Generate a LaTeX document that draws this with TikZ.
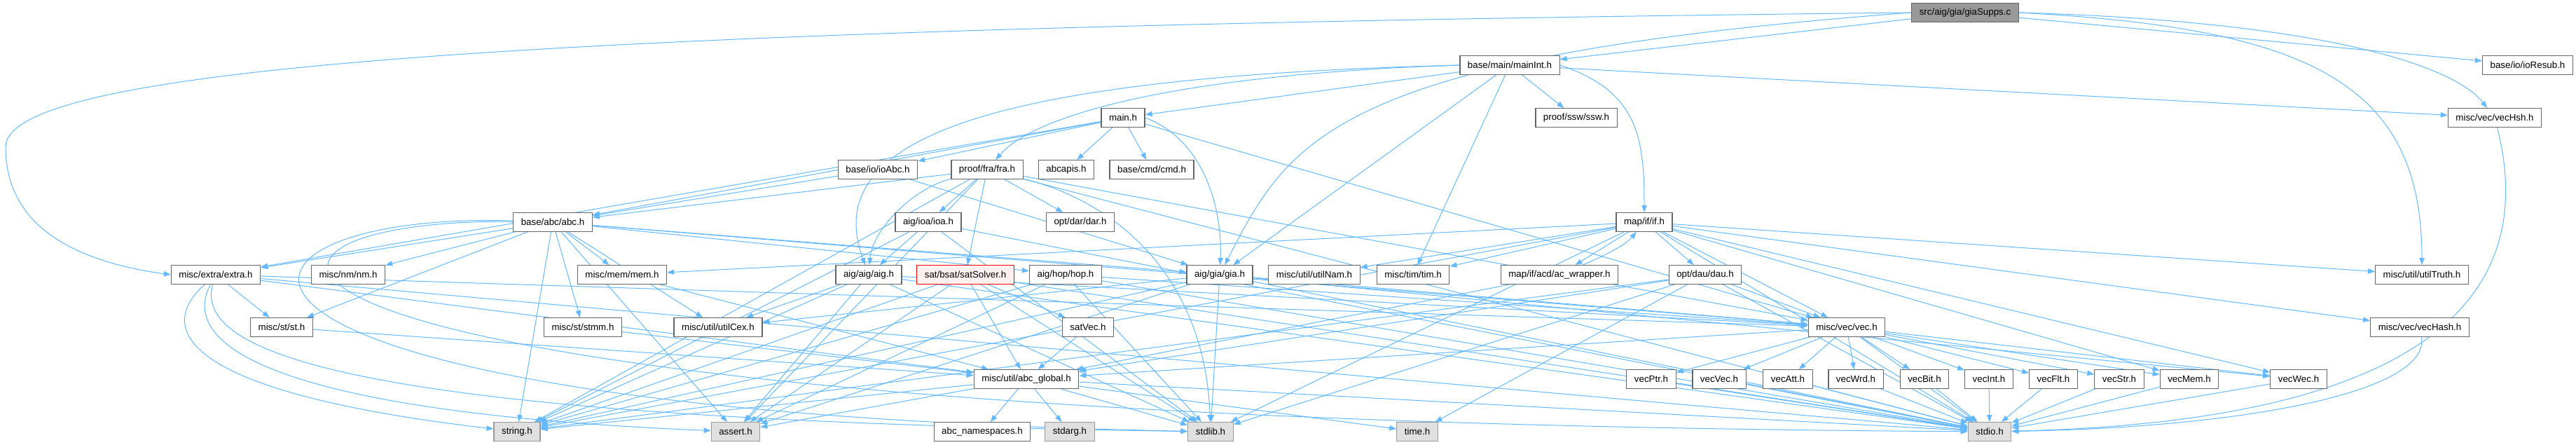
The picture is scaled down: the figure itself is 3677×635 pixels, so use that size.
\documentclass[tikz,border=0pt]{standalone}
\usepackage{fontspec}
\setmainfont{Liberation Sans}
\usetikzlibrary{arrows.meta}
\definecolor{edgeblue}{RGB}{99,184,255}
\definecolor{nodeline}{RGB}{102,102,102}
\definecolor{sysfill}{RGB}{224,224,224}
\definecolor{sysline}{RGB}{153,153,153}
\definecolor{rootfill}{RGB}{153,153,153}
\definecolor{redfill}{RGB}{255,240,240}
\pgfdeclarelayer{background}
\pgfsetlayers{background,main}

\begin{document}
\begin{tikzpicture}[x=0.75pt, y=-0.75pt,
    font=\fontsize{10}{12}\selectfont,
    box/.style={draw=nodeline, fill=white, line width=0.9pt, inner xsep=8.3pt, inner ysep=0pt, minimum height=20pt},
    sysbox/.style={box, draw=sysline, fill=sysfill},
    rootbox/.style={box, fill=rootfill},
    redbox/.style={box, draw=red, fill=redfill},
    arrow/.style={-{Triangle[length=7.5pt,width=5.5pt]}, draw=edgeblue, line width=0.75pt}
  ]
    \useasboundingbox (0,0) rectangle (3677,635);
    \node[rootbox] (supps) at (2805,18) {src/aig/gia/giaSupps.c};
    \node[box] (mainint) at (2155,93) {base/main/mainInt.h};
    \node[box] (ioresub) at (3608,93) {base/io/ioResub.h};
    \node[box] (mainh) at (1603,168) {main.h};
    \node[box] (ssw) at (2250,168) {proof/ssw/ssw.h};
    \node[box] (vechsh) at (3561,168) {misc/vec/vecHsh.h};
    \node[box] (ioabc) at (1253,242) {base/io/ioAbc.h};
    \node[box] (fra) at (1409,242) {proof/fra/fra.h};
    \node[box] (abcapis) at (1522,242) {abcapis.h};
    \node[box] (cmd) at (1644,242) {base/cmd/cmd.h};
    \node[box] (abch) at (789,317) {base/abc/abc.h};
    \node[box] (ioa) at (1325,317) {aig/ioa/ioa.h};
    \node[box] (dar) at (1542,317) {opt/dar/dar.h};
    \node[box] (ifh) at (2347,317) {map/if/if.h};
    \node[box] (extra) at (308,392) {misc/extra/extra.h};
    \node[box] (nm) at (497,392) {misc/nm/nm.h};
    \node[box] (mem) at (888,392) {misc/mem/mem.h};
    \node[box] (aigh) at (1240,392) {aig/aig/aig.h};
    \node[redbox] (satsolver) at (1378,392) {sat/bsat/satSolver.h};
    \node[box] (hop) at (1521,392) {aig/hop/hop.h};
    \node[box] (giah) at (1741,392) {aig/gia/gia.h};
    \node[box] (utilnam) at (1876,392) {misc/util/utilNam.h};
    \node[box] (tim) at (2017,392) {misc/tim/tim.h};
    \node[box] (acwrap) at (2226,392) {map/if/acd/ac\_wrapper.h};
    \node[box] (dau) at (2434,392) {opt/dau/dau.h};
    \node[box] (utiltruth) at (3457,392) {misc/util/utilTruth.h};
    \node[box] (st) at (402,467) {misc/st/st.h};
    \node[box] (stmm) at (832,467) {misc/st/stmm.h};
    \node[box] (utilcex) at (1025,467) {misc/util/utilCex.h};
    \node[box] (satvec) at (1553,467) {satVec.h};
    \node[box] (vech) at (2636,467) {misc/vec/vec.h};
    \node[box] (vechash) at (3454,467) {misc/vec/vecHash.h};
    \node[box] (abcglobal) at (1465,541) {misc/util/abc\_global.h};
    \node[box] (vecptr) at (2357,541) {vecPtr.h};
    \node[box] (vecvec) at (2454,541) {vecVec.h};
    \node[box] (vecatt) at (2552,541) {vecAtt.h};
    \node[box] (vecwrd) at (2649,541) {vecWrd.h};
    \node[box] (vecbit) at (2747,541) {vecBit.h};
    \node[box] (vecint) at (2839,541) {vecInt.h};
    \node[box] (vecflt) at (2931,541) {vecFlt.h};
    \node[box] (vecstr) at (3025,541) {vecStr.h};
    \node[box] (vecmem) at (3125,541) {vecMem.h};
    \node[box] (vecwec) at (3281,541) {vecWec.h};
    \node[sysbox] (stringh) at (738,616) {string.h};
    \node[sysbox] (asserth) at (1050,616) {assert.h};
    \node[box] (abcns) at (1402,616) {abc\_namespaces.h};
    \node[sysbox] (stdargh) at (1527,616) {stdarg.h};
    \node[sysbox] (stdlibh) at (1728,616) {stdlib.h};
    \node[sysbox] (timeh) at (2023,616) {time.h};
    \node[sysbox] (stdioh) at (2840,616) {stdio.h};
    \begin{pgfonlayer}{background}
    \draw[arrow] (supps.west) .. controls (700,40) and (8,100) .. (8,210) .. controls (8,330) and (120,375) .. (extra.west);
    \draw[arrow] (supps) -- (mainint);
    \draw[arrow] (supps.west) .. controls (1900,80) and (1840,200) .. (giah);
    \draw[arrow] (supps) -- (ioresub);
    \draw[arrow] (supps.east) .. controls (3300,30) and (3500,90) .. (vechsh);
    \draw[arrow] (supps.east) .. controls (3300,40) and (3457,120) .. (utiltruth);
    \draw[arrow] (mainint) -- (mainh);
    \draw[arrow] (mainint.west) .. controls (1700,105) and (1480,160) .. (fra);
    \draw[arrow] (mainint.west) .. controls (1400,110) and (1170,200) .. (aigh);
    \draw[arrow] (mainint) -- (ssw);
    \draw[arrow] (mainint.east) .. controls (2340,130) and (2347,200) .. (ifh);
    \draw[arrow] (mainint) -- (tim);
    \draw[arrow] (mainint) -- (giah);
    \draw[arrow] (mainint) -- (vechsh);
    \draw[arrow] (mainh) -- (ioabc);
    \draw[arrow] (mainh) -- (abcapis);
    \draw[arrow] (mainh) -- (cmd);
    \draw[arrow] (mainh) -- (abch);
    \draw[arrow] (mainh) -- (extra);
    \draw[arrow] (mainh.east) .. controls (1720,200) and (1745,300) .. (giah);
    \draw[arrow] (mainh) -- (vech);
    \draw[arrow] (ioabc) -- (abch);
    \draw[arrow] (ioabc) -- (giah);
    \draw[arrow] (fra) -- (abch);
    \draw[arrow] (fra) -- (ioa);
    \draw[arrow] (fra) -- (satsolver);
    \draw[arrow] (fra) -- (dar);
    \draw[arrow] (fra) .. controls (1300,270) and (1245,330) .. (aigh);
    \draw[arrow] (fra) -- (vech);
    \draw[arrow] (fra) .. controls (1600,290) and (1720,400) .. (stdlibh);
    \draw[arrow] (fra) -- (stdioh);
    \draw[arrow] (fra) -- (stringh);
    \draw[arrow] (fra) -- (asserth);
    \draw[arrow] (abch) -- (extra);
    \draw[arrow] (abch) -- (nm);
    \draw[arrow] (abch) -- (st);
    \draw[arrow] (abch) -- (stmm);
    \draw[arrow] (abch) -- (mem);
    \draw[arrow] (abch) -- (utilcex);
    \draw[arrow] (abch) -- (hop);
    \draw[arrow] (abch) -- (giah);
    \draw[arrow] (abch) -- (vech);
    \draw[arrow] (abch) -- (stringh);
    \draw[arrow] (abch) -- (asserth);
    \draw[arrow] (abch) .. controls (260,300) and (170,585) .. (stdlibh);
    \draw[arrow] (abch) .. controls (240,310) and (190,600) .. (stdioh);
    \draw[arrow] (ioa) -- (aigh);
    \draw[arrow] (ioa) -- (stringh);
    \draw[arrow] (ioa) -- (stdlibh);
    \draw[arrow] (ioa) -- (stdioh);
    \draw[arrow] (ifh) -- (utilnam);
    \draw[arrow] (ifh) -- (tim);
    \draw[arrow] (ifh) -- (acwrap);
    \draw[arrow] (ifh) -- (dau);
    \draw[arrow] (ifh) -- (mem);
    \draw[arrow] (ifh) -- (vech);
    \draw[arrow] (ifh) -- (vecmem);
    \draw[arrow] (ifh) -- (vecwec);
    \draw[arrow] (ifh) -- (utiltruth);
    \draw[arrow] (ifh) -- (vechash);
    \draw[arrow] (ifh) -- (stringh);
    \draw[arrow] (ifh) -- (stdlibh);
    \draw[arrow] (ifh) -- (stdioh);
    \draw[arrow] (acwrap) .. controls (2290,365) and (2320,350) .. (ifh);
    \draw[arrow] (acwrap) -- (abcglobal);
    \draw[arrow] (dau) -- (vech);
    \draw[arrow] (dau) -- (timeh);
    \draw[arrow] (dau) -- (stdlibh);
    \draw[arrow] (dau) -- (stdioh);
    \draw[arrow] (dau) -- (stringh);
    \draw[arrow] (dau) -- (abcglobal);
    \draw[arrow] (extra) -- (st);
    \draw[arrow] (extra) .. controls (220,470) and (260,560) .. (stringh);
    \draw[arrow] (extra) .. controls (250,500) and (420,590) .. (asserth);
    \draw[arrow] (extra) .. controls (270,520) and (600,600) .. (stdlibh);
    \draw[arrow] (extra) -- (stdioh);
    \draw[arrow] (extra) -- (abcglobal);
    \draw[arrow] (extra) -- (vech);
    \draw[arrow] (aigh) -- (utilcex);
    \draw[arrow] (aigh) -- (asserth);
    \draw[arrow] (aigh) -- (stringh);
    \draw[arrow] (aigh) -- (stdlibh);
    \draw[arrow] (aigh) -- (stdioh);
    \draw[arrow] (aigh) -- (vech);
    \draw[arrow] (satsolver) -- (satvec);
    \draw[arrow] (satsolver) -- (stringh);
    \draw[arrow] (satsolver) -- (asserth);
    \draw[arrow] (satsolver) -- (stdlibh);
    \draw[arrow] (satsolver) -- (stdioh);
    \draw[arrow] (satsolver) -- (abcglobal);
    \draw[arrow] (hop) -- (stringh);
    \draw[arrow] (hop) -- (asserth);
    \draw[arrow] (hop) -- (stdlibh);
    \draw[arrow] (hop) -- (stdioh);
    \draw[arrow] (hop) -- (vech);
    \draw[arrow] (giah) -- (utilcex);
    \draw[arrow] (giah) -- (stringh);
    \draw[arrow] (giah) -- (asserth);
    \draw[arrow] (giah) -- (stdlibh);
    \draw[arrow] (giah) -- (stdioh);
    \draw[arrow] (giah) -- (vech);
    \draw[arrow] (giah) -- (vecwec);
    \draw[arrow] (st) -- (abcglobal);
    \draw[arrow] (stmm) -- (abcglobal);
    \draw[arrow] (mem) -- (abcglobal);
    \draw[arrow] (satvec) -- (abcglobal);
    \draw[arrow] (vech) -- (vecptr);
    \draw[arrow] (vech) -- (vecvec);
    \draw[arrow] (vech) -- (vecatt);
    \draw[arrow] (vech) -- (vecwrd);
    \draw[arrow] (vech) -- (vecbit);
    \draw[arrow] (vech) -- (vecint);
    \draw[arrow] (vech) -- (vecflt);
    \draw[arrow] (vech) -- (vecstr);
    \draw[arrow] (vech) -- (vecmem);
    \draw[arrow] (vech) -- (vecwec);
    \draw[arrow] (vech) -- (abcglobal);
    \draw[arrow] (vech) -- (stdioh);
    \draw[arrow] (vecptr) -- (stdioh);
    \draw[arrow] (vecvec) -- (stdioh);
    \draw[arrow] (vecatt) -- (stdioh);
    \draw[arrow] (vecwrd) -- (stdioh);
    \draw[arrow] (vecbit) -- (stdioh);
    \draw[arrow] (vecint) -- (stdioh);
    \draw[arrow] (vecflt) -- (stdioh);
    \draw[arrow] (vecstr) -- (stdioh);
    \draw[arrow] (vecmem) -- (stdioh);
    \draw[arrow] (vecwec) -- (stdioh);
    \draw[arrow] (vechsh) .. controls (3620,400) and (3500,600) .. (stdioh);
    \draw[arrow] (vechash) .. controls (3470,560) and (3200,610) .. (stdioh);
    \draw[arrow] (abcglobal) -- (abcns);
    \draw[arrow] (abcglobal) -- (stdargh);
    \draw[arrow] (abcglobal) -- (stdlibh);
    \draw[arrow] (abcglobal) -- (stdioh);
    \draw[arrow] (abcglobal) -- (stringh);
    \draw[arrow] (abcglobal) -- (asserth);
    \draw[arrow] (abcglobal) -- (timeh);
    \end{pgfonlayer}
  \end{tikzpicture}
\end{document}
